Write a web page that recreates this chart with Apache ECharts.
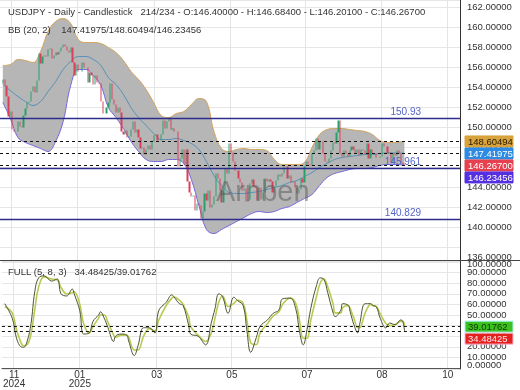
<!DOCTYPE html>
<html>
<head>
<meta charset="utf-8">
<script src="https://cdn.jsdelivr.net/npm/echarts@6/dist/echarts.min.js"></script>
<style>
html,body{margin:0;padding:0;background:#fff;}
#chart{width:520px;height:390px;}
</style>
</head>
<body>
<div id="chart"></div>
<script>
// ================= DATA =================
// daily candles: [open, close, low, high]
const ohlc = [
[154.4,154.8,153.9,155.0],[154.8,154.2,153.6,155.0],[154.2,153.1,152.9,154.5],[153.1,151.1,150.6,153.2],[151.1,151.6,151.0,152.0],
[151.6,149.8,149.5,151.7],[149.8,149.6,149.0,150.7],[149.6,149.6,148.6,150.3],[149.6,150.6,149.4,150.9],[150.6,150.1,149.9,151.2],
[150.1,150.0,149.4,150.5],[150.0,151.2,149.9,151.3],[151.2,151.9,151.0,152.0],[151.9,152.5,151.7,152.6],[152.5,152.6,152.1,153.0],
[152.6,153.6,152.4,153.9],[153.6,154.1,153.4,154.4],[154.1,153.5,153.3,154.4],[153.5,154.7,153.3,155.0],[154.7,157.4,154.6,157.9],
[157.4,156.4,156.0,157.9],[156.4,157.1,156.1,157.3],[157.1,157.2,156.9,157.4],[157.2,157.1,156.9,157.4],[157.1,157.8,157.0,158.1],
[157.8,157.9,157.4,158.1],[157.9,156.9,156.3,157.9],[156.9,157.2,156.5,157.5],[157.2,157.5,156.9,157.8],[157.5,157.3,157.0,157.8],
[157.3,157.6,157.1,158.4],[157.6,158.0,157.4,158.4],[158.0,158.3,157.8,158.6],[158.3,158.1,157.8,158.5],[158.1,157.7,157.2,158.9],
[157.7,157.5,157.1,158.0],[157.5,158.0,157.3,158.3],[158.0,156.5,156.3,158.2],[156.5,155.2,155.0,156.6],[155.2,156.3,155.1,156.6],
[156.3,155.6,155.4,156.6],[155.6,155.6,154.8,156.2],[155.6,156.5,155.3,156.8],[156.5,156.0,155.9,156.8],[156.0,156.0,155.0,156.5],
[156.0,154.5,153.8,156.2],[154.5,155.5,154.4,155.9],[155.5,155.2,154.8,155.9],[155.2,154.3,153.8,155.4],[154.3,155.2,154.1,155.7],
[155.2,154.5,154.3,155.9],[154.5,154.4,153.8,155.0],[154.4,152.6,152.2,154.4],[152.6,151.4,151.2,152.8],[151.4,151.4,150.9,152.0],
[151.4,152.0,151.3,152.3],[152.0,152.5,151.8,152.9],[152.5,154.4,152.2,154.8],[154.4,152.8,152.6,154.5],[152.8,152.3,151.8,153.1],
[152.3,151.5,151.3,152.3],[151.5,152.0,151.2,152.2],[152.0,151.5,151.1,152.0],[151.5,149.6,149.4,151.6],[149.6,149.3,148.8,150.4],
[149.3,149.7,149.0,149.9],[149.7,149.0,148.6,149.9],[149.0,149.1,148.8,149.5],[149.1,149.8,148.9,150.0],[149.8,150.6,149.6,150.9],
[150.6,149.5,149.3,150.9],[149.5,149.8,148.8,150.0],[149.8,149.0,148.9,150.2],[149.0,147.9,147.3,149.3],[147.9,148.0,147.3,148.2],
[148.0,147.3,146.9,148.1],[147.3,147.8,146.5,148.1],[147.8,148.2,147.6,149.2],[148.2,147.8,147.6,148.4],[147.8,148.6,147.7,148.8],
[148.6,149.2,148.5,149.4],[149.2,149.3,148.9,149.9],[149.3,148.7,148.2,149.6],[148.7,148.7,148.2,149.2],[148.7,149.3,148.6,149.6],
[149.3,150.7,149.3,151.0],[150.7,149.9,149.6,150.7],[149.9,150.6,149.7,150.8],[150.6,151.0,150.4,151.2],[151.0,149.8,149.7,151.1],
[149.8,149.9,148.7,150.2],[149.9,149.6,149.1,150.1],[149.6,149.6,148.9,150.5],[149.6,146.1,145.8,149.7],[146.1,146.9,144.9,147.0],
[146.9,147.8,144.8,148.1],[147.8,146.3,146.0,148.1],[146.3,147.8,144.0,148.3],[147.8,144.6,144.0,147.8],[144.6,143.5,142.1,144.8],
[143.5,143.1,142.8,143.8],[143.1,143.2,142.8,143.9],[143.2,141.7,141.6,143.4],[141.7,142.4,141.6,142.7],[142.4,142.2,141.9,142.5],
[142.2,140.9,140.6,142.2],[140.9,141.6,139.9,141.9],[141.6,143.4,141.5,143.6],[143.4,142.7,142.1,143.4],[142.7,143.7,142.6,144.0],
[143.7,142.0,141.9,143.9],[142.0,142.3,141.8,142.7],[142.3,143.1,142.0,143.5],[143.1,145.4,143.0,145.9],[145.4,144.9,144.4,145.9],
[144.9,143.7,143.5,145.1],[143.7,142.5,142.4,143.8],[142.5,143.8,142.4,144.0],[143.8,145.9,143.6,146.2],[145.9,145.4,145.2,146.2],
[145.4,148.4,145.3,148.6],[148.4,147.5,147.0,148.5],[147.5,146.6,146.2,148.0],[146.6,145.7,145.4,146.7],[145.7,145.7,145.2,146.2],
[145.7,144.9,144.6,146.0],[144.9,144.5,144.0,145.3],[144.5,143.7,143.6,144.7],[143.7,143.9,143.4,144.3],[143.9,142.6,142.4,144.0],
[142.6,142.8,142.1,143.0],[142.8,144.4,142.6,144.5],[144.4,144.8,144.1,145.0],[144.8,144.1,143.5,146.2],[144.1,144.0,143.4,144.4],
[144.0,142.7,142.5,144.0],[142.7,144.0,142.6,144.1],[144.0,142.8,142.6,144.2],[142.8,143.5,142.5,144.0],[143.5,144.9,143.4,145.1],
[144.9,144.6,144.2,145.2],[144.6,144.8,144.4,145.3],[144.8,144.6,144.2,145.2],[144.6,143.5,143.2,144.7],[143.5,144.1,142.8,144.3],
[144.1,144.7,143.9,144.9],[144.7,145.3,144.3,145.4],[145.3,145.1,144.8,145.6],[145.1,145.4,144.9,145.9],[145.4,146.1,145.3,146.3],
[146.1,146.1,145.9,148.0],[146.1,144.9,144.8,146.4],[144.9,145.2,144.7,145.5],[145.2,144.5,144.1,145.4],[144.5,144.6,144.3,144.9],
[144.6,144.0,143.8,144.9],[144.0,143.4,142.7,144.1],[143.4,143.8,143.2,144.0],[143.8,144.9,143.6,145.2],[144.9,144.5,144.2,145.0],
[144.5,146.1,144.4,146.2],[146.1,146.6,145.9,147.2],[146.6,146.3,145.9,146.9],[146.3,146.2,145.8,146.6],[146.2,147.4,146.0,147.5],
[147.4,147.7,147.1,147.8],[147.7,148.9,147.6,149.0],[148.9,147.8,147.3,149.2],[147.8,148.6,147.6,149.0],[148.6,148.6,148.1,149.0],
[148.6,147.4,147.2,148.7],[147.4,146.6,146.5,147.6],[146.6,146.5,146.2,146.8],[146.5,146.9,146.0,147.2],[146.9,147.7,146.7,147.9],
[147.7,148.5,147.5,148.6],[148.5,148.4,147.9,148.6],[148.4,149.5,147.9,149.6],[149.5,150.7,149.1,150.8],[150.7,147.4,147.3,150.9],
[147.4,147.1,146.6,147.9],[147.1,147.7,146.8,148.0],[147.7,147.4,147.0,148.2],[147.4,147.1,146.7,147.7],[147.1,147.7,146.8,147.9],
[147.7,148.1,147.4,148.3],[148.1,147.8,147.6,148.5],[147.8,147.4,146.9,148.0],[147.4,147.8,146.4,147.9],[147.8,147.2,146.9,147.9],
[147.2,147.8,147.1,148.0],[147.8,147.7,147.4,148.1],[147.7,147.3,146.9,147.8],[147.3,148.4,147.2,148.5],[148.4,146.9,146.7,148.8],
[146.9,147.8,146.8,147.9],[147.8,147.4,147.0,147.9],[147.4,147.4,147.2,148.1],[147.4,147.0,146.8,147.7],[147.0,147.0,146.8,147.4],
[147.0,147.1,146.7,147.4],[147.1,148.4,147.0,148.6],[148.4,148.1,147.8,149.1],[148.1,148.1,147.6,148.4],[148.1,147.4,147.1,148.4],
[147.4,147.5,146.9,147.7],[147.5,146.5,146.3,147.5],[146.5,147.4,146.4,147.6],[147.4,147.2,147.0,147.8],[147.2,147.7,147.0,147.9],
[147.7,147.4,147.2,147.8],[147.4,146.5,146.2,147.6],[146.5,146.4,146.1,147.0],[146.40,146.267,146.201,146.684]
];

// Bollinger band (20, 2) read at these bar numbers
const bbIdx   = [0,4,8,12,16,20,24,28,32,36,40,44,48,52,56,60,64,68,72,76,80,84,88,92,96,100,104,108,112,116,120,124,128,132,136,140,144,148,152,156,160,164,168,172,176,180,184,188,192,196,200,204,208,212,213];
const bbUpper = [156.2,156.3,156.8,156.7,156.5,157.6,159.6,160.6,160.9,160.4,158.8,158.5,158.5,158.4,158.0,157.5,156.7,155.6,154.8,153.8,152.5,151.2,151.0,151.4,151.6,152.3,152.9,152.6,149.6,147.9,147.6,147.8,147.9,147.8,147.8,147.7,146.8,146.3,146.3,146.3,146.5,148.0,149.3,149.8,149.9,149.9,149.8,149.7,149.6,149.3,148.7,148.5,148.5,148.6,148.60494];
const bbMid   = [154.3,153.7,153.1,152.6,152.2,152.6,153.6,154.6,155.8,156.6,157.1,157.1,156.8,156.2,155.0,154.3,153.3,152.0,151.0,150.2,149.4,148.8,148.8,148.9,148.7,148.4,147.8,146.6,145.2,144.2,143.5,143.4,143.4,143.5,143.6,143.8,144.0,144.2,144.5,144.7,145.1,145.5,146.0,146.4,146.8,147.0,147.1,147.2,147.3,147.3,147.4,147.45,147.45,147.43,147.41975];
const bbLower = [152.5,150.9,149.0,148.5,148.2,147.9,147.6,148.6,150.6,154.2,155.8,155.8,155.2,154.2,152.0,151.0,149.9,148.6,147.6,146.8,146.6,146.6,146.8,146.8,146.4,144.8,142.2,139.8,139.4,139.8,140.2,140.6,141.0,141.4,141.6,141.5,141.6,141.9,142.1,142.5,142.9,143.3,144.2,145.0,145.4,145.6,145.8,145.9,145.9,146.0,146.2,146.3,146.3,146.25,146.23456];

// Full stochastic (5, 8, 3): [bar number, value]
const stochK = [[0,60.7],[4,47],[6,30],[8,21],[10,19.5],[12,25.5],[14,42],[16,72],[18,85],[21,87],[25,82],[28,84],[30,70],[33,68],[36,74.5],[37,70],[40,54],[42,32],[45,33],[47,44],[50,50],[51,53],[53,47],[55,38],[58,25],[59,30],[62,32],[65,31],[66,25.5],[69,11.7],[71,21],[74,38],[77,38],[80,33],[82,54],[86,62],[89,69],[90,67.5],[93,60.7],[95,59],[98,40],[99,32],[103,30],[107,21.8],[110,42.4],[112,56],[114,70],[116,67.5],[119,51.6],[122,66.8],[124,63.7],[127,59],[129,35],[131,14.8],[134,28.6],[136,39.3],[140,45.4],[143,51.6],[146,54.6],[148,65.3],[152,65.9],[155,56],[157,34.7],[159,21.8],[161,36],[163,56],[166,77.5],[168,85],[170,83.7],[172,71.4],[175,51.6],[176,48.5],[179,54.6],[180,60.7],[183,59],[184,53],[186,40.8],[188,33.2],[189,40.8],[192,60.7],[195,60.7],[196,59],[198,57.5],[200,47],[203,37.8],[205,42.4],[208,40.8],[211,45.4],[212,44],[213,34.48425]];
const stochD = [[0,58],[4,52],[6,38],[8,27],[10,21],[12,22],[14,32],[16,55],[18,76],[21,86],[25,84],[28,83],[30,76],[33,70],[36,71],[37,72],[40,60],[42,42],[45,33],[47,39],[50,47],[51,50],[53,50],[55,43],[58,31],[59,29],[62,31],[65,31],[66,29],[69,17],[71,17],[74,30],[77,37],[80,35],[82,45],[86,59],[89,66],[90,67],[93,64],[95,60],[98,48],[99,39],[103,31],[107,25],[110,33],[112,47],[114,62],[116,68],[119,58],[122,61],[124,64],[127,61],[129,45],[131,24],[134,22],[136,33],[140,42],[143,49],[146,53],[148,60],[152,66],[155,61],[157,45],[159,28],[161,28],[163,45],[166,67],[168,80],[170,84],[172,77],[175,60],[176,52],[179,52],[180,57],[183,59],[184,56],[186,47],[188,38],[189,38],[192,52],[195,60],[196,59],[198,58],[200,51],[203,42],[205,40],[208,41],[211,44],[212,44],[213,39.01762]];

// horizontal levels
const levelNames  = ['L1', 'L0', 'L2'];
const levelValues = [150.93, 145.961, 140.829];
const levelTexts  = ['150.93', '145.961', '140.829'];

// x-axis tick labels (slot -> text)
const monthLabels = {6:'11\n2024', 41:'01\n2025', 82:'03', 122:'05', 162:'07', 202:'08', 237:'10'};
const barCounter = '214/234';
const watermark = 'Arnben';

// ================= LAYOUT / STYLE =================
const FONT = '"Liberation Sans", Arial, Helvetica, sans-serif';
const FS = 9.5;
const SLOTS = 244, FIRST = 1;
const slots = Array.from({length: SLOTS}, (_, i) => String(i));
const f5 = v => v.toFixed(5);
const last = ohlc[ohlc.length - 1];
const lastOf = a => a[a.length - 1];
const kLast = lastOf(stochK)[1], dLast = lastOf(stochD)[1];

const wickData = ohlc.map((c, i) => [i + FIRST, c[2], c[3], c[2], c[3]]);
const bodyData = ohlc.map((c, i) => [i + FIRST, c[0], c[1], Math.min(c[0], c[1]), Math.max(c[0], c[1])]);
const band = (arr) => bbIdx.map((k, i) => [k + FIRST, arr[i]]);
const bandWidth = bbIdx.map((k, i) => [k + FIRST, +(bbUpper[i] - bbLower[i]).toFixed(5)]);
const shift = arr => arr.map(p => [p[0] + FIRST, p[1]]);

const isMonth = (i) => Object.prototype.hasOwnProperty.call(monthLabels, i);

function tagSeries(values, bgs, fgs, borders, axisIdx) {
  const state = {bottom: -Infinity};
  return {
    type: 'custom', xAxisIndex: axisIdx, yAxisIndex: axisIdx, clip: false, silent: true, z: 30,
    encode: {x: 0, y: 1},
    data: values.map(v => [0, v]),
    renderItem(params, api) {
      const i = params.dataIndex;
      if (i === 0) state.bottom = -Infinity;
      const cs = params.coordSys;
      const y = api.coord([0, api.value(1)])[1];
      const h = 11;
      const top = Math.max(y - h / 2, state.bottom + 1);
      state.bottom = top + h;
      const x = cs.x + cs.width + 5;
      return {type: 'group', children: [
        {type: 'rect', shape: {x: x, y: top, width: 48, height: h}, style: {fill: bgs[i], stroke: borders[i], lineWidth: 1}},
        {type: 'text', style: {text: f5(values[i]), x: x + 3, y: top + h / 2 + 0.5, align: 'left', verticalAlign: 'middle', fill: fgs[i], font: FS + 'px ' + FONT}}
      ]};
    }
  };
}

const levelLines = [];
levelValues.forEach((v, i) => {
  levelLines.push({yAxis: v, lineStyle: {color: '#2c2c8c', width: 1.4, type: 'solid'},
    label: {show: true, position: 'insideEndTop', distance: [39, 1], formatter: levelTexts[i], color: '#5664c8', fontSize: FS + 0.5, fontFamily: FONT}});
  levelLines.push({yAxis: v, lineStyle: {opacity: 0},
    label: {show: true, position: 'insideStartTop', distance: [7, 1], formatter: levelNames[i], color: '#5664c8', fontSize: FS + 0.5, fontFamily: FONT}});
});
[lastOf(bbUpper), lastOf(bbMid), last[1], lastOf(bbLower)].forEach(v => {
  levelLines.push({yAxis: v, lineStyle: {color: '#111', width: 1, type: [3, 3]}, label: {show: false}});
});

const txt = {fontSize: FS, fontWeight: 'normal', color: '#333', fontFamily: FONT};

const option = {
  animation: false,
  backgroundColor: '#ffffff',
  textStyle: {fontFamily: FONT},
  title: [
    {text: 'USDJPY - Daily - Candlestick   ' + barCounter + ' - O:' + f5(last[0]) + ' - H:' + f5(last[3]) + ' - L:' + f5(last[2]) + ' - C:' + f5(last[1]),
     left: 8, top: 7, padding: 0, textStyle: txt},
    {text: 'BB (20, 2)    ' + f5(lastOf(bbMid)) + '/' + f5(lastOf(bbUpper)) + '/' + f5(lastOf(bbLower)), left: 8, top: 25, padding: 0, textStyle: txt},
    {text: 'FULL (5, 8, 3)   ' + f5(kLast) + '/' + f5(dLast), left: 8, top: 267, padding: 0, textStyle: txt}
  ],
  grid: [
    {left: 0, right: 60, top: 0, height: 260},
    {left: 0, right: 60, top: 261, height: 108}
  ],
  xAxis: [
    {type: 'category', gridIndex: 0, data: slots, boundaryGap: true,
     axisLine: {show: false}, axisTick: {show: false}, axisLabel: {show: false},
     splitLine: {show: true, interval: (i) => isMonth(i), lineStyle: {color: '#e4e4e4', width: 1}}},
    {type: 'category', gridIndex: 1, data: slots, boundaryGap: true,
     axisLine: {show: true, lineStyle: {color: '#555', width: 1}}, axisTick: {show: false},
     axisLabel: {interval: (i) => isMonth(i), formatter: (v, i) => monthLabels[i] || '', margin: 2,
                 fontSize: FS + 0.5, lineHeight: 9, color: '#333', fontFamily: FONT},
     splitLine: {show: true, interval: (i) => isMonth(i), lineStyle: {color: '#e4e4e4', width: 1}}}
  ],
  yAxis: [
    {type: 'value', gridIndex: 0, position: 'right', min: 136.75, max: 162.75, splitNumber: 13,
     axisLine: {show: true, lineStyle: {color: '#333', width: 1}}, axisTick: {show: false},
     splitLine: {lineStyle: {color: '#e6e6e6'}},
     axisLabel: {showMaxLabel: false, showMinLabel: true, margin: 7, fontSize: FS, color: '#333', fontFamily: FONT,
                 formatter: v => v < 137 ? '{lo|136.00000}' : f5(v),
                 rich: {lo: {padding: [0, 0, 6, 0], fontSize: FS, color: '#333'}}}},
    {type: 'value', gridIndex: 1, position: 'right', min: -1, max: 101, splitNumber: 10,
     axisLine: {show: true, lineStyle: {color: '#333', width: 1}}, axisTick: {show: false},
     splitLine: {lineStyle: {color: '#e6e6e6'}},
     axisLabel: {showMaxLabel: false, showMinLabel: false, margin: 7, fontSize: FS, color: '#333', fontFamily: FONT,
                 formatter: v => v === 100 ? '{hi|100.00000}' : (v === 0 ? '{lo|0.00000}' : f5(v)),
                 rich: {hi: {padding: [5, 0, 0, 0], fontSize: FS, color: '#333'},
                        lo: {padding: [0, 0, 6, 0], fontSize: FS, color: '#333'}}}}
  ],
  series: [
    {name: 'bbLower', type: 'line', xAxisIndex: 0, yAxisIndex: 0, data: band(bbLower), stack: 'bb', smooth: 0.4,
     symbol: 'none', lineStyle: {color: '#7468dc', width: 1}, z: 2, silent: true},
    {name: 'bbFill', type: 'line', xAxisIndex: 0, yAxisIndex: 0, data: bandWidth, stack: 'bb', smooth: 0.4,
     symbol: 'none', lineStyle: {width: 0, opacity: 0}, areaStyle: {color: '#b6b6b6', opacity: 1}, z: 1, silent: true},
    {name: 'bbUpper', type: 'line', xAxisIndex: 0, yAxisIndex: 0, data: band(bbUpper), smooth: 0.4,
     symbol: 'none', lineStyle: {color: '#d2a45e', width: 1}, z: 2, silent: true},
    {name: 'bbMid', type: 'line', xAxisIndex: 0, yAxisIndex: 0, data: band(bbMid), smooth: 0.4,
     symbol: 'none', lineStyle: {color: '#5591b8', width: 1}, z: 2, silent: true,
     markLine: {silent: true, symbol: ['none', 'none'], z: 6, animation: false, data: levelLines}},
    {name: 'wick', type: 'candlestick', xAxisIndex: 0, yAxisIndex: 0, data: wickData, encode: {x: 0, y: [1, 2, 3, 4]},
     barWidth: 1, itemStyle: {color: '#555555', color0: '#555555', borderColor: '#555555', borderColor0: '#555555', borderWidth: 0}, z: 3, silent: true},
    {name: 'body', type: 'candlestick', xAxisIndex: 0, yAxisIndex: 0, data: bodyData, encode: {x: 0, y: [1, 2, 3, 4]},
     barWidth: 1.7, itemStyle: {color: '#28a06a', color0: '#d9405a', borderColor: '#28a06a', borderColor0: '#d9405a', borderWidth: 0}, z: 4, silent: true},
    {name: '%D', type: 'line', xAxisIndex: 1, yAxisIndex: 1, data: shift(stochD), smooth: 0.4, symbol: 'none',
     lineStyle: {color: '#b9ca52', width: 1.6}, z: 2, silent: true},
    {name: '%K', type: 'line', xAxisIndex: 1, yAxisIndex: 1, data: shift(stochK), smooth: 0.4, symbol: 'none',
     lineStyle: {color: '#4b5630', width: 1}, z: 3, silent: true,
     markLine: {silent: true, symbol: ['none', 'none'], z: 6, animation: false, label: {show: false},
       data: [{yAxis: dLast, lineStyle: {color: '#111', width: 1, type: [3, 3]}}, {yAxis: kLast, lineStyle: {color: '#111', width: 1, type: [3, 3]}}]}},
    tagSeries([lastOf(bbUpper), lastOf(bbMid), last[1], lastOf(bbLower)],
              ['#d8a23c', '#2d8be3', '#e5414f', '#5530e0'], ['#2a2000', '#ffffff', '#ffffff', '#ffffff'],
              ['#d8a23c', '#2d8be3', '#e5414f', '#5530e0'], 0),
    tagSeries([dLast, kLast], ['#3cc21e', '#e3221e'], ['#123300', '#ffe6f0'], ['#a8f4f4', '#f8b8d8'], 1)
  ],
  graphic: [
    {type: 'line', shape: {x1: 0, y1: 260.5, x2: 520, y2: 260.5}, style: {stroke: '#444', lineWidth: 1}, z: 50, silent: true},
    {type: 'text', left: 216, top: 178, z: 40, silent: true,
     style: {text: watermark, font: '29px ' + FONT, fill: 'rgba(85,85,85,0.5)'}}
  ]
};

const chart = echarts.init(document.getElementById('chart'), null, {renderer: 'canvas'});
chart.setOption(option);
</script>
</body>
</html>
